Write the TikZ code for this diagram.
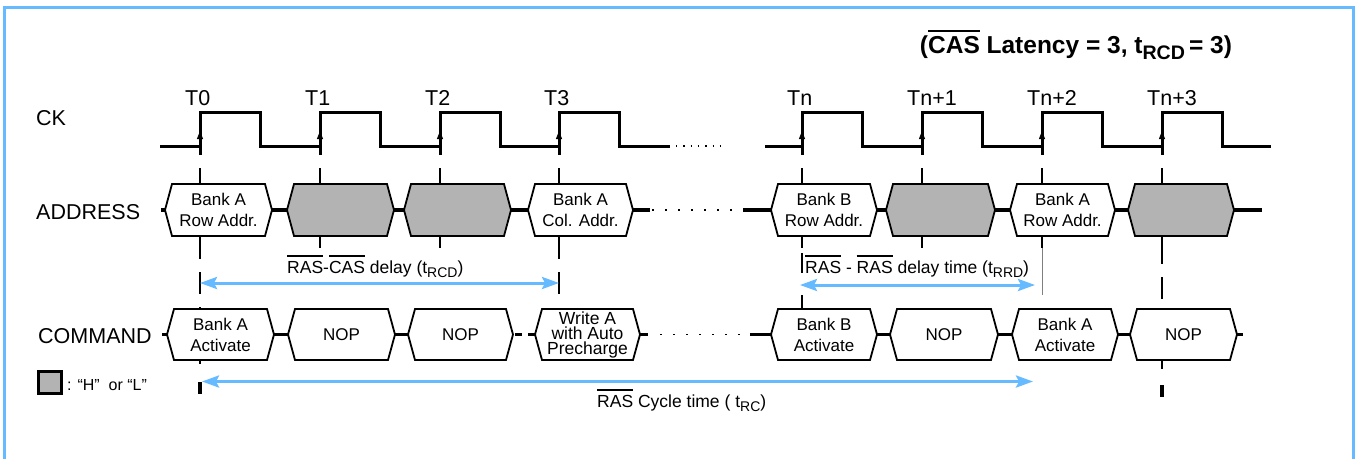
\documentclass[tikz,border=0pt]{standalone}
\usepackage{fontspec}
\usepackage{graphicx}
\setmainfont{Liberation Sans}
\usetikzlibrary{arrows.meta}
\definecolor{skyline}{RGB}{102,186,255}
\definecolor{dontcare}{RGB}{179,179,179}
\newcommand{\ovl}[1]{\vbox{\hrule height 2.2pt\kern 3.5pt\hbox{#1}}}
\newcommand{\lowsub}[1]{\raisebox{-0.28em}{\scalebox{0.8}{#1}}}

\tikzset{
  frame/.style={skyline,line width=3pt},
  clk/.style={line width=3pt},
  busline/.style={line width=3.5pt},
  busbox/.style={line width=1.8pt,line join=miter},
  boxtext/.style={align=center,inner sep=0pt,font=\fontsize{17}{21}\selectfont},
  tight/.style={font=\fontsize{17.5}{15}\selectfont},
  rowlabel/.style={anchor=base west,inner sep=0pt,font=\fontsize{21.5}{26}\selectfont},
  note/.style={anchor=base west,inner sep=0pt,font=\fontsize{17.5}{21}\selectfont},
  guide/.style={line width=1.6pt},
  span/.style={skyline,line width=3pt,{Stealth[length=17pt,width=12pt,inset=3pt]}-{Stealth[length=17pt,width=12pt,inset=3pt]}}
}

\begin{document}
\begin{tikzpicture}[x=1pt,y=-1pt]
\useasboundingbox (0,0) rectangle (1357,459);
\draw[frame] (4.5,459) -- (4.5,7.5) -- (1353,7.5) -- (1353,459);

% title
\node[anchor=base,inner sep=0pt,font=\fontsize{24.5}{29}\selectfont\bfseries] (ttl) at (1076,53)
  {(\ovl{CAS} Latency = 3, t\lowsub{RCD}\,= 3)};

% row labels
\node[rowlabel] (ck) at (36,125) {CK};
\node[rowlabel] (addr) at (36,219) {ADDRESS};
\node[rowlabel] (cmd) at (38,343) {COMMAND};

% clock
\draw[clk] (160,146) foreach \x in {200,320,440,559} { -- (\x,146) -- (\x,112) -- (\x+60,112) -- (\x+60,146) } -- (670,146);
\draw[line width=1.3pt,dash pattern=on 1.3pt off 6pt] (676,146) -- (727,146);
\draw[clk] (765,146) foreach \x in {802,922,1042,1162} { -- (\x,146) -- (\x,112) -- (\x+60,112) -- (\x+60,146) } -- (1271,146);
\foreach \n/\x/\t in {t0/200/T0,t1/320/T1,t2/440/T2,t3/559/T3,tn/802/Tn,tn1/922/Tn+1,tn2/1042/Tn+2,tn3/1162/Tn+3} {
  \draw[clk] (\x,146) -- (\x,155);
  \draw[line width=0.8pt,-{Triangle[length=8pt,width=6pt]}] (\x,146) -- (\x,131);
  \node[rowlabel] (\n) at (\x-15,105) {\t};
  \draw[guide] (\x,168) -- (\x,184);
  \draw[guide] (\x,237) -- (\x,248);
}

% guide lines
\draw[guide,dash pattern=on 22pt off 13pt] (200,237) -- (200,366);
\draw[line width=3.5pt] (200,382) -- (200,394);
\draw[guide,dash pattern=on 22pt off 13pt] (559,237) -- (559,297);
\draw[guide] (802,253) -- (802,273);
\draw[guide] (802,295) -- (802,309);
\draw[gray,line width=0.7pt] (1042,248) -- (1042,295);
\draw[guide,dash pattern=on 22pt off 13pt] (1162,242) -- (1162,370);
\draw[line width=3.5pt] (1162,385) -- (1162,397);

% bus lines
\draw[busline] (161,210) -- (650,210);
\draw[line width=1.5pt,dash pattern=on 1.5pt off 11.5pt] (652,210) -- (743,210);
\draw[busline] (743,210) -- (1262,210);
\draw[busline] (162,334.5) -- (513,334.5);
\draw[busline,dash pattern=on 7pt off 6pt] (515,334.5) -- (535,334.5);
\draw[busline] (535,334.5) -- (648,334.5);
\draw[line width=1.5pt,dash pattern=on 1.5pt off 11.5pt] (660,334.5) -- (750,334.5);
\draw[busline] (750,334.5) -- (1243,334.5);

% address boxes
\foreach \n/\xa/\xb/\f/\t in {
  a1/165/272/white/{Bank A\\Row Addr.},
  a2/287/394/dontcare/{},
  a3/404/511/dontcare/{},
  a4/528/633/white/{Bank A\\Col. Addr.},
  a5/771/877/white/{Bank B\\Row Addr.},
  a6/886/995/dontcare/{},
  a7/1010/1115/white/{Bank A\\Row Addr.},
  a8/1128/1234/dontcare/{}} {
  \draw[busbox,fill=\f] (\xa,210) -- (\xa+7,184) -- (\xb-7,184) -- (\xb,210) -- (\xb-7,236) -- (\xa+7,236) -- cycle;
  \node[boxtext] (\n) at ({(\xa+\xb)/2},210) {\t};
}

% command boxes
\foreach \n/\xa/\xb/\o/\t in {
  c1/167/274//{Bank A\\Activate},
  c2/288/395//NOP,
  c3/408/513//NOP,
  c4/535/640/tight/{Write A\\with Auto\\Precharge},
  c5/771/877//{Bank B\\Activate},
  c6/890/998//NOP,
  c7/1012/1118//{Bank A\\Activate},
  c8/1130/1237//NOP} {
  \draw[busbox,fill=white] (\xa,334.5) -- (\xa+7,309) -- (\xb-7,309) -- (\xb,334.5) -- (\xb-7,360) -- (\xa+7,360) -- cycle;
  \node[boxtext,\o] (\n) at ({(\xa+\xb)/2},334.5) {\t};
}

% timing spans
\coordinate (rcdL) at (200,283);
\coordinate (rcdR) at (559,283);
\coordinate (rrdL) at (800,285);
\coordinate (rrdR) at (1035,285);
\coordinate (rcL) at (202,381.5);
\coordinate (rcR) at (1033,381.5);
\draw[span] (rcdL) -- (rcdR);
\draw[span] (rrdL) -- (rrdR);
\draw[span] (rcL) -- (rcR);
\node[note] (rcd) at (287,273) {\ovl{RAS}-\ovl{CAS} delay (t\lowsub{RCD})};
\node[note] (rrd) at (805,273) {\ovl{RAS} - \ovl{RAS} delay time (t\lowsub{RRD})};
\node[note] (rc) at (597,407) {\ovl{RAS} Cycle time ( t\lowsub{RC})};

% legend
\node[draw,line width=3pt,fill=dontcare,minimum width=23pt,minimum height=22pt,inner sep=0pt] (hl) at (50,382.5) {};
\node[note,font=\fontsize{16}{19}\selectfont] (hltext) at (67,390) {: “H”\ \ or “L”};
\end{tikzpicture}
\end{document}
